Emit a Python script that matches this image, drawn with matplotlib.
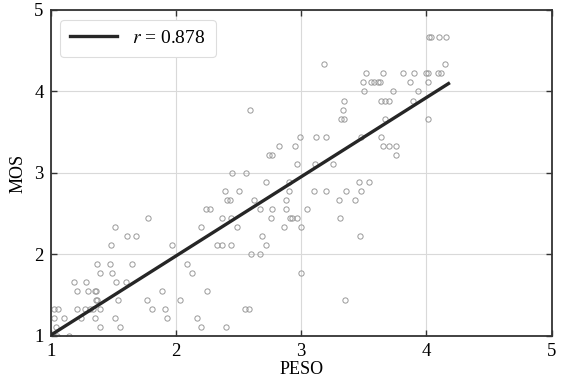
import matplotlib
matplotlib.use("Agg")
import numpy as np
import matplotlib.pyplot as plt

# MOS levels come in steps of 1/9; each list holds the PESO values found on that level
mos_levels = [1 + k / 9 for k in range(34)]
peso_at_level = {
    0: [1.02, 1.05, 1.15],
    1: [1.04, 1.39, 1.55, 2.20, 2.40],
    2: [1.03, 1.11, 1.24, 1.35, 1.51, 1.93, 2.17],
    3: [1.03, 1.06, 1.21, 1.27, 1.31, 1.34, 1.39, 1.81, 1.91, 2.55, 2.58],
    4: [1.36, 1.37, 1.54, 1.77, 2.03, 3.35],
    5: [1.21, 1.30, 1.35, 1.36, 1.89, 2.25],
    6: [1.19, 1.28, 1.52, 1.60],
    7: [1.39, 1.49, 2.13, 3.00],
    8: [1.37, 1.47, 1.65, 2.09],
    9: [2.60, 2.67],
    10: [1.48, 1.97, 2.33, 2.37, 2.44, 2.72],
    11: [1.61, 1.68, 2.69, 3.47],
    12: [1.51, 2.20, 2.49, 2.86, 3.00],
    13: [1.78, 2.37, 2.44, 2.76, 2.91, 2.93, 2.97, 3.31],
    14: [2.24, 2.27, 2.67, 2.77, 2.88, 3.05],
    15: [2.41, 2.43, 2.62, 2.88, 3.30, 3.43],
    16: [2.39, 2.50, 2.90, 3.10, 3.20, 3.36, 3.48],
    17: [2.72, 2.90, 3.46, 3.54],
    18: [2.45, 2.56],
    19: [2.97, 3.11, 3.25],
    20: [2.74, 2.77, 3.76],
    21: [2.82, 2.95, 3.65, 3.70, 3.76],
    22: [2.99, 3.12, 3.20, 3.48, 3.64],
    24: [3.32, 3.34, 3.67, 4.01],
    25: [2.59, 3.33],
    26: [3.34, 3.64, 3.67, 3.70, 3.89],
    27: [3.50, 3.73, 3.93],
    28: [3.49, 3.56, 3.58, 3.61, 3.63, 3.87, 4.01],
    29: [3.52, 3.65, 3.81, 3.90, 4.00, 4.01, 4.09, 4.12],
    30: [3.18, 4.15],
    33: [4.02, 4.04, 4.10, 4.16],
}

# regression line
fit_slope = 0.972
fit_intercept = 0.038
fit_x = [1.0, 4.176]
r_label = "0.878"

peso = []
mos = []
for k, xs in peso_at_level.items():
    for x in xs:
        peso.append(x)
        mos.append(mos_levels[k])

plt.rcParams["font.family"] = ["Liberation Serif", "DejaVu Serif"]
plt.rcParams["mathtext.fontset"] = "stix"

fig = plt.figure(figsize=(5.67, 3.80), dpi=100)
ax = fig.add_axes([0.0894, 0.1158, 0.8836, 0.8579])

ax.plot(peso, mos, "o", markersize=3.8, markerfacecolor="none",
        markeredgecolor="#999999", markeredgewidth=0.7, zorder=2)

lx = np.array(fit_x)
ax.plot(lx, fit_intercept + fit_slope * lx, color="#262626", linewidth=2.4,
        label="$r$ = " + r_label, zorder=3)

ax.set_xlim(1, 5)
ax.set_ylim(1, 5)
ax.set_xticks([1, 2, 3, 4, 5])
ax.set_yticks([1, 2, 3, 4, 5])
ax.grid(True, color="#d9d9d9", linewidth=0.8, zorder=0)
ax.set_axisbelow(True)
ax.tick_params(direction="in", top=True, right=True, labelsize=13.5,
               length=4, width=1, color="#333333", pad=5)
for s in ax.spines.values():
    s.set_color("#333333")
    s.set_linewidth(1.3)

ax.set_xlabel("PESO", fontsize=13, labelpad=1)
ax.set_ylabel("MOS", fontsize=13, labelpad=6)

leg = ax.legend(loc="upper left", fontsize=14, handlelength=2.4,
                handletextpad=0.8, borderpad=0.5, fancybox=True,
                framealpha=1, borderaxespad=0.5)
leg.get_frame().set_edgecolor("#dddddd")
leg.get_frame().set_linewidth(0.8)

fig.savefig("out.png", dpi=100)
